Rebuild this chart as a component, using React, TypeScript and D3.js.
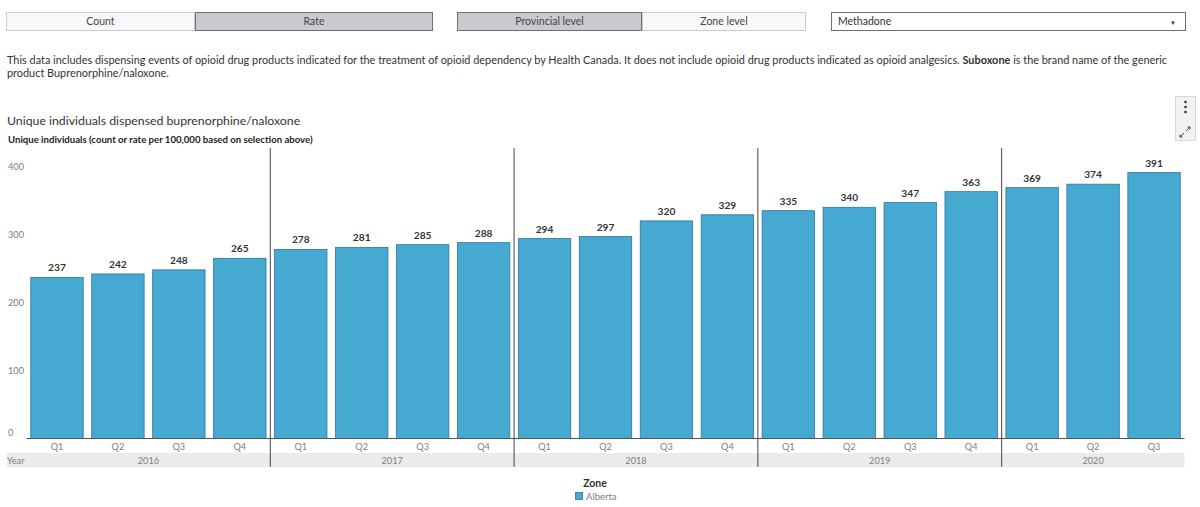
import { useEffect, useRef } from 'react';
import * as d3 from 'd3';

const years = ['2016', '2017', '2018', '2019', '2020'];
const periods = [
  '2016 Q1', '2016 Q2', '2016 Q3', '2016 Q4',
  '2017 Q1', '2017 Q2', '2017 Q3', '2017 Q4',
  '2018 Q1', '2018 Q2', '2018 Q3', '2018 Q4',
  '2019 Q1', '2019 Q2', '2019 Q3', '2019 Q4',
  '2020 Q1', '2020 Q2', '2020 Q3',
];
const albertaRates = [237, 242, 248, 265, 278, 281, 285, 288, 294, 297, 320, 329, 335, 340, 347, 363, 369, 374, 391];
const yTicks = [0, 100, 200, 300, 400];

const FONT = 'Lato, "Open Sans", sans-serif';
const BAR = '#46a9d1';
const BAR_EDGE = '#2f7595';
const GREY_TXT = '#7b7d80';

export default function App() {
  const ref = useRef<SVGSVGElement>(null);

  useEffect(() => {
    const svg = d3.select(ref.current);
    svg.selectAll('*').remove();
    svg.style('font-family', FONT);

    // --- controls row ---
    const buttons = [
      { label: 'Count', x0: 6, x1: 195, on: false },
      { label: 'Rate', x0: 195, x1: 433, on: true },
      { label: 'Provincial level', x0: 457, x1: 642, on: true },
      { label: 'Zone level', x0: 642, x1: 806, on: false },
    ];
    const ctrl = svg.append('g');
    buttons.forEach(b => {
      ctrl.append('rect')
        .attr('x', b.x0 + 0.5).attr('y', 12.5)
        .attr('width', b.x1 - b.x0 - 1).attr('height', 18)
        .attr('fill', b.on ? '#c9cacf' : '#f7f8f9')
        .attr('stroke', b.on ? '#6e6f73' : '#c9cbce');
      ctrl.append('text')
        .attr('x', (b.x0 + b.x1) / 2).attr('y', 25)
        .attr('text-anchor', 'middle')
        .attr('font-size', 10.5).attr('fill', '#444')
        .text(b.label);
    });
    ctrl.append('rect')
      .attr('x', 831.5).attr('y', 12.5).attr('width', 354).attr('height', 18)
      .attr('fill', '#fff').attr('stroke', '#6e6f73');
    ctrl.append('text')
      .attr('x', 838).attr('y', 25).attr('font-size', 10.5).attr('fill', '#333')
      .text('Methadone');
    ctrl.append('text')
      .attr('x', 1173).attr('y', 24.5).attr('font-size', 6).attr('fill', '#333')
      .attr('text-anchor', 'middle').text('▼');

    // --- description ---
    const desc = svg.append('text').attr('font-size', 10.9).attr('fill', '#333');
    const l1 = desc.append('tspan').attr('x', 7).attr('y', 64);
    l1.append('tspan').text('This data includes dispensing events of opioid drug products indicated for the treatment of opioid dependency by Health Canada. It does not include opioid drug products indicated as opioid analgesics. ');
    l1.append('tspan').attr('font-weight', 'bold').text('Suboxone');
    l1.append('tspan').text(' is the brand name of the generic');
    desc.append('tspan').attr('x', 7).attr('y', 77).text('product Buprenorphine/naloxone.');

    // --- titles ---
    svg.append('text')
      .attr('x', 7).attr('y', 125).attr('font-size', 12.3).attr('fill', '#333')
      .text('Unique individuals dispensed buprenorphine/naloxone');
    svg.append('text')
      .attr('x', 8).attr('y', 143).attr('font-size', 9.6).attr('font-weight', 'bold').attr('fill', '#222')
      .text('Unique individuals (count or rate per 100,000 based on selection above)');

    // --- menu box ---
    const menu = svg.append('g');
    menu.append('rect')
      .attr('x', 1175.5).attr('y', 96.5).attr('width', 20).attr('height', 44)
      .attr('fill', '#f1f2f3').attr('stroke', '#d5d7da');
    [102, 107, 112].forEach(cy => menu.append('circle').attr('cx', 1185.5).attr('cy', cy).attr('r', 1.3).attr('fill', '#333'));
    menu.append('path')
      .attr('d', 'M1186,131 L1190,127 M1187.5,127 L1190,127 L1190,129.5 M1180,137 L1184,133 M1180,134.5 L1180,137 L1182.5,137')
      .attr('fill', 'none').attr('stroke', '#333').attr('stroke-width', 0.9);

    // --- chart ---
    const x = d3.scaleBand<string>().domain(periods).range([26.5, 1184.5]).paddingInner(0.14).paddingOuter(0.07);
    const y = d3.scaleLinear().domain([0, 400]).range([438.5, 166.5]);

    const axisG = svg.append('g');
    yTicks.forEach(t => {
      axisG.append('text')
        .attr('x', 8).attr('y', y(t) + (t === 0 ? -3 : 3.5))
        .attr('font-size', 9.2).attr('fill', GREY_TXT)
        .text(t);
    });

    const bars = svg.append('g');
    bars.selectAll('rect')
      .data(albertaRates)
      .join('rect')
      .attr('x', (_, i) => x(periods[i])!)
      .attr('y', d => y(d))
      .attr('width', x.bandwidth())
      .attr('height', d => y(0) - y(d))
      .attr('fill', BAR)
      .attr('stroke', BAR_EDGE)
      .attr('stroke-width', 0.8);

    bars.selectAll('text')
      .data(albertaRates)
      .join('text')
      .attr('x', (_, i) => x(periods[i])! + x.bandwidth() / 2)
      .attr('y', d => y(d) - 6)
      .attr('text-anchor', 'middle')
      .attr('font-size', 10.2).attr('font-weight', 'bold').attr('fill', '#333')
      .text(d => d);

    // baseline
    svg.append('line')
      .attr('x1', x.range()[0]).attr('x2', x.range()[1])
      .attr('y1', y(0)).attr('y2', y(0))
      .attr('stroke', '#555').attr('stroke-width', 1);

    // quarter labels
    svg.append('g').selectAll('text')
      .data(periods)
      .join('text')
      .attr('x', d => x(d)! + x.bandwidth() / 2)
      .attr('y', 450)
      .attr('text-anchor', 'middle')
      .attr('font-size', 9.2).attr('fill', GREY_TXT)
      .text(d => d.split(' ')[1]);

    // year band
    svg.append('rect')
      .attr('x', 7).attr('y', 453).attr('width', x.range()[1] - 7).attr('height', 14)
      .attr('fill', '#ebebed');
    svg.append('text')
      .attr('x', 7).attr('y', 463.5).attr('font-size', 9.2).attr('fill', GREY_TXT).text('Year');

    const step = x.step();
    const yearSpan = years.map(yr => {
      const ps = periods.filter(p => p.startsWith(yr));
      const first = x(ps[0])! + x.bandwidth() / 2;
      const last = x(ps[ps.length - 1])! + x.bandwidth() / 2;
      return { yr, left: first - step / 2, right: last + step / 2 };
    });
    const yrG = svg.append('g');
    yearSpan.forEach((s, i) => {
      yrG.append('text')
        .attr('x', (s.left + s.right) / 2).attr('y', 463.5)
        .attr('text-anchor', 'middle').attr('font-size', 9.2).attr('fill', GREY_TXT)
        .text(s.yr);
      if (i > 0) {
        yrG.append('line')
          .attr('x1', s.left).attr('x2', s.left)
          .attr('y1', 148).attr('y2', 467)
          .attr('stroke', '#444').attr('stroke-width', 1);
      }
    });

    // legend
    svg.append('text')
      .attr('x', 595).attr('y', 487).attr('text-anchor', 'middle')
      .attr('font-size', 10.5).attr('font-weight', 'bold').attr('fill', '#333').text('Zone');
    svg.append('rect')
      .attr('x', 575.5).attr('y', 492.5).attr('width', 7).attr('height', 7)
      .attr('fill', BAR).attr('stroke', BAR_EDGE).attr('stroke-width', 0.8);
    svg.append('text')
      .attr('x', 586).attr('y', 499.5).attr('font-size', 9.5).attr('fill', GREY_TXT).text('Alberta');
  }, []);

  return (
    <svg
      ref={ref}
      width={1200}
      height={507}
      style={{ position: 'absolute', left: 0, top: 0, background: '#fff' }}
    />
  );
}
